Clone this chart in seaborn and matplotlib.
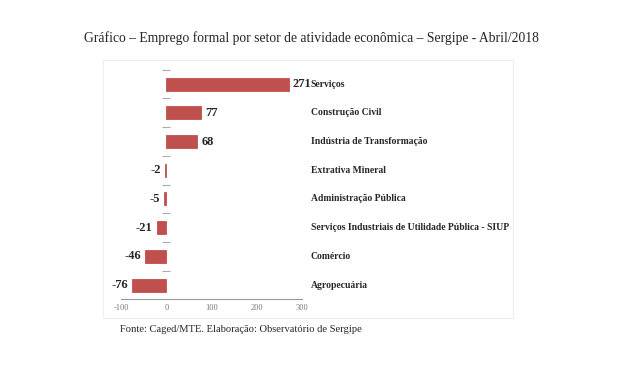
import matplotlib
matplotlib.use("Agg")
import matplotlib.pyplot as plt
import matplotlib.transforms as mtransforms
from matplotlib.patches import Rectangle
import seaborn as sns
import pandas as pd

setores = ["Serviços", "Construção Civil", "Indústria de Transformação",
           "Extrativa Mineral", "Administração Pública",
           "Serviços Industriais de Utilidade Pública - SIUP",
           "Comércio", "Agropecuária"]
saldo = [271, 77, 68, -2, -5, -21, -46, -76]
xticks = [-100, 0, 100, 200, 300]

df = pd.DataFrame({"setor": setores, "saldo": saldo})

sns.set_style("white")
plt.rcParams['font.family'] = ['Liberation Serif', 'DejaVu Serif']

fig = plt.figure(figsize=(6.21, 3.67), dpi=100)
ax = fig.add_axes([0.195, 0.184, 0.291, 0.626])

sns.barplot(data=df, x="saldo", y="setor", color="#C0504D", saturation=1,
            width=0.45, orient="h", edgecolor="#C0504D", linewidth=0.6, ax=ax)

ax.set_xlim(-100, 300)
ax.set_ylim(7.5, -0.5)
ax.set_xticks(xticks)
ax.set_xticklabels([str(t) for t in xticks], fontsize=6, color="#777777")
ax.tick_params(axis="x", length=0, pad=3)
ax.set_xlabel("")
ax.set_ylabel("")

# category boundary ticks on a y axis placed at zero
ax.spines["left"].set_position(("data", 0))
ax.spines["left"].set_color("none")
ax.set_yticks([i - 0.5 for i in range(len(setores))])
ax.set_yticklabels([])
ax.tick_params(axis="y", direction="inout", length=6, color="#AAAAAA", width=0.8, left=True)
for s in ["top", "right"]:
    ax.spines[s].set_visible(False)
ax.spines["bottom"].set_color("#999999")
ax.spines["bottom"].set_linewidth(0.8)

ax.bar_label(ax.containers[0], labels=[str(v) for v in saldo], padding=3,
             fontsize=9, fontweight="bold")

trans = mtransforms.blended_transform_factory(ax.transAxes, ax.transData)
for i, nome in enumerate(setores):
    ax.text(1.05, i, nome, transform=trans, ha="left", va="center",
            fontsize=6.9, fontweight="bold")

fig.patches.append(Rectangle((103 / 621, 1 - 318 / 367), 410 / 621, 258 / 367,
                             transform=fig.transFigure, fill=False,
                             edgecolor="#EEEEEE", linewidth=0.8))

fig.text(0.502, 1 - 38 / 367,
         "Gráfico – Emprego formal por setor de atividade econômica – Sergipe - Abril/2018",
         ha="center", va="center", fontsize=9.8)
fig.text(120 / 621, 1 - 330 / 367,
         "Fonte: Caged/MTE. Elaboração: Observatório de Sergipe",
         ha="left", va="center", fontsize=7.6)

fig.savefig("out.png", dpi=100)
